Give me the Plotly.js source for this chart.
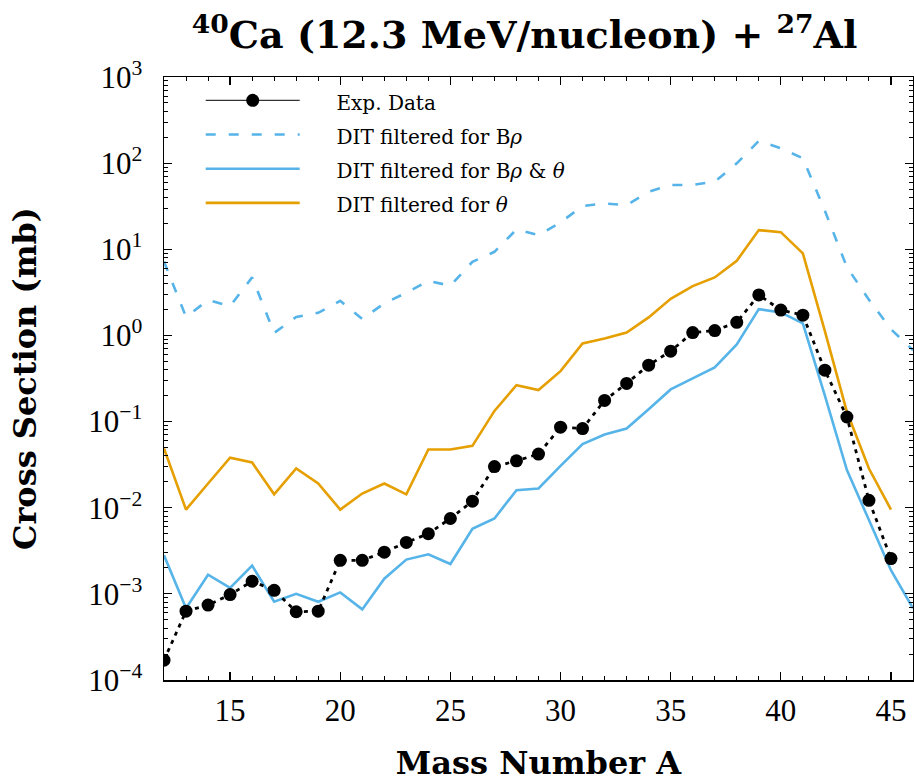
<!DOCTYPE html>
<html>
<head>
<meta charset="utf-8">
<script src="https://cdn.plot.ly/plotly-3.0.1.min.js"></script>
<style>html,body{margin:0;padding:0;background:#fff;}#chart{width:914px;height:782px;}</style>
</head>
<body>
<div id="chart"></div>
<script>
// Mass numbers
const massExp = [12,13,14,15,16,17,18,19,20,21,22,23,24,25,26,27,28,29,30,31,32,33,34,35,36,37,38,39,40,41,42,43,44,45];
// Experimental cross sections (mb)
const sigmaExp = [1.7e-4,6.3e-4,7.4e-4,9.8e-4,1.4e-3,1.1e-3,6.2e-4,6.3e-4,2.45e-3,2.45e-3,3.05e-3,3.95e-3,5.0e-3,7.5e-3,1.19e-2,3.0e-2,3.5e-2,4.2e-2,8.6e-2,8.3e-2,0.176,0.277,0.452,0.657,1.08,1.14,1.42,2.95,1.97,1.72,0.395,0.113,1.22e-2,2.57e-3];

// DIT filtered for B rho (dashed)
const massBrho = [12,13,14,15,16,17,18,19,20,21,22,23,24,25,26,27,28,29,30,31,32,33,34,35,36,37,38,39,40,41,42,43,44,45,46];
const sigmaBrho = [7.2,1.64,2.57,2.19,4.72,1.07,1.64,1.83,2.52,1.55,2.36,3.13,4.31,3.77,7.16,9.35,17.0,14.6,20.5,31.8,34,32.6,46.5,55.7,56,60.8,99.5,181,149,114,28,6.2,2.6,1.18,0.675];

// DIT filtered for B rho & theta (solid blue)
const massBrhoTheta = [12,13,14,15,16,17,18,19,20,21,22,23,24,25,26,27,28,29,30,31,32,33,34,35,36,37,38,39,40,41,42,43,44,45,46];
const sigmaBrhoTheta = [2.8e-3,6.8e-4,1.67e-3,1.17e-3,2.13e-3,8.1e-4,1.0e-3,8.1e-4,1.04e-3,6.6e-4,1.5e-3,2.5e-3,2.88e-3,2.22e-3,5.7e-3,7.5e-3,1.6e-2,1.67e-2,3.06e-2,5.47e-2,7.08e-2,8.32e-2,0.139,0.236,0.317,0.425,0.786,2.02,1.85,1.38,0.2,2.73e-2,7.2e-3,1.88e-3,6.8e-4];

// DIT filtered for theta (orange)
const massTheta = [12,13,14,15,16,17,18,19,20,21,22,23,24,25,26,27,28,29,30,31,32,33,34,35,36,37,38,39,40,41,42,43,44,45];
const sigmaTheta = [4.87e-2,9.5e-3,1.91e-2,3.8e-2,3.35e-2,1.43e-2,2.85e-2,1.91e-2,9.5e-3,1.46e-2,1.91e-2,1.43e-2,4.74e-2,4.74e-2,5.23e-2,0.133,0.265,0.232,0.385,0.807,0.922,1.08,1.62,2.66,3.74,4.71,7.35,16.7,15.8,8.96,1.12,0.13,2.85e-2,9.5e-3];

const yTickVals = [1e-4,1e-3,1e-2,1e-1,1,10,100,1000];
const yTickText = ['10<sup>−4</sup>','10<sup>−3</sup>','10<sup>−2</sup>','10<sup>−1</sup>','10<sup>0</sup>','10<sup>1</sup>','10<sup>2</sup>','10<sup>3</sup>'];
const xTickVals = [15,20,25,30,35,40,45];

const legendNames = ['Exp. Data','DIT filtered for B<i>ρ</i>','DIT filtered for B<i>ρ</i> &amp; <i>θ</i>','DIT filtered for <i>θ</i>'];
function legendLabel(s) {
  return '<span style="font-size:20px">\u00a0\u00a0\u00a0\u00a0\u00a0' + s + '</span>';
}

const BLUE = '#56B4E9', ORANGE = '#E69F00';
const FONT = '"Liberation Serif", "DejaVu Serif", serif';
const BFONT = '"DejaVu Serif", "Liberation Serif", serif';

const traces = [
  {x: massBrho, y: sigmaBrho, type:'scatter', mode:'lines', name: legendLabel(legendNames[1]),
   line:{color:BLUE, width:2.6, dash:'10px,13px'}, legendrank:2},
  {x: massBrhoTheta, y: sigmaBrhoTheta, type:'scatter', mode:'lines', name: legendLabel(legendNames[2]),
   line:{color:BLUE, width:2.6}, legendrank:3},
  {x: massTheta, y: sigmaTheta, type:'scatter', mode:'lines', name: legendLabel(legendNames[3]),
   line:{color:ORANGE, width:2.6}, legendrank:4},
  {x: massExp, y: sigmaExp, type:'scatter', mode:'lines+markers', name: legendNames[0],
   line:{color:'#000', width:2.8, dash:'4px,5px'},
   marker:{color:'#000', size:13},
   error_y:{type:'percent', value:14, color:'#000', thickness:1.5, width:0},
   showlegend:false},
  {x:[null], y:[null], type:'scatter', mode:'lines+markers', name: legendLabel(legendNames[0]),
   line:{color:'#333', width:1.3}, marker:{color:'#000', size:13}, legendrank:1}
];

const layout = {
  width:914, height:782,
  margin:{l:164, r:1, t:77, b:102},
  paper_bgcolor:'#fff', plot_bgcolor:'#fff',
  font:{family:FONT, color:'#000'},
  title:{text:'<b><sup>40</sup>Ca (12.3 MeV/nucleon) + <sup>27</sup>Al</b>', font:{size:38, family:BFONT, color:'#000'},
         x:0.574, xanchor:'center', y:0.955, yanchor:'middle'},
  showlegend:true,
  legend:{x:0.049, y:0.998, xanchor:'left', yanchor:'top', bgcolor:'rgba(0,0,0,0)',
          font:{size:24, family:BFONT, color:'#000'}, itemwidth:94, tracegroupgap:0},
  xaxis:{range:[12,46], showgrid:false, zeroline:false,
         showline:true, linecolor:'#000', linewidth:1.5, mirror:'allticks',
         ticks:'inside', ticklen:8, tickwidth:1.2, tickcolor:'#000',
         tickvals:xTickVals, tickfont:{size:31, family:FONT}, ticklabelstandoff:2,
         minor:{dtick:1, ticks:'inside', ticklen:4, tickwidth:1, tickcolor:'#000', showgrid:false},
         title:{text:'<b>Mass Number A</b>', font:{size:32, family:BFONT}, standoff:28}},
  yaxis:{type:'log', range:[-4,3], showgrid:false, zeroline:false,
         showline:true, linecolor:'#000', linewidth:1.5, mirror:'allticks',
         ticks:'inside', ticklen:8, tickwidth:1.2, tickcolor:'#000',
         tickvals:yTickVals, ticktext:yTickText, tickfont:{size:31, family:FONT}, ticklabelstandoff:14,
         minor:{dtick:'D1', ticks:'inside', ticklen:4, tickwidth:1, tickcolor:'#000', showgrid:false},
         title:{text:'<b>Cross Section (mb)</b>', font:{size:32, family:BFONT}, standoff:42}}
};

Plotly.newPlot('chart', traces, layout, {displayModeBar:false, staticPlot:true});
</script>
</body>
</html>
